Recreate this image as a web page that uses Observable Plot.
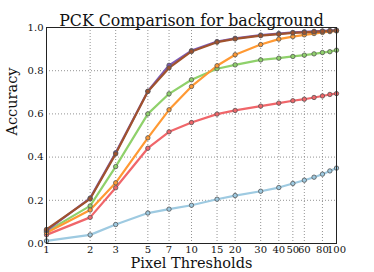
<!DOCTYPE html>
<html><head><meta charset="utf-8">
<script src="https://cdn.jsdelivr.net/npm/d3@7"></script>
<script src="https://cdn.jsdelivr.net/npm/@observablehq/plot@0.6"></script>
<style>body{margin:0;background:#fff}</style>
</head><body><div id="chart"></div>
<script>
const title = "PCK Comparison for background";
const xLabel = "Pixel Thresholds";
const yLabel = "Accuracy";
const thresholds = [1,2,3,5,7,10,15,20,30,40,50,60,70,80,90,100];
const xTicks = [1,2,3,5,7,10,15,20,30,40,50,60,80,100];
const yTicks = [0,0.2,0.4,0.6,0.8,1.0];
const seriesNames = ["S1","S2","S3","S4","S5","S6"];
const seriesColors = ["#9ecae1","#f0666a","#8fd16b","#ff9933","#7e5bb5","#a0522d"];
const s1 = [0.012,0.040,0.088,0.141,0.159,0.177,0.205,0.222,0.242,0.259,0.278,0.293,0.307,0.321,0.336,0.349];
const s2 = [0.040,0.121,0.258,0.441,0.517,0.560,0.599,0.616,0.636,0.650,0.661,0.668,0.676,0.683,0.690,0.694];
const s3 = [0.055,0.174,0.356,0.600,0.693,0.758,0.809,0.827,0.850,0.858,0.866,0.872,0.878,0.884,0.888,0.895];
const s4 = [0.050,0.155,0.281,0.489,0.619,0.727,0.823,0.874,0.921,0.946,0.958,0.966,0.972,0.977,0.981,0.984];
const s5 = [0.060,0.210,0.420,0.705,0.825,0.893,0.935,0.950,0.965,0.972,0.977,0.980,0.982,0.984,0.986,0.988];
const s6 = [0.065,0.207,0.415,0.704,0.813,0.889,0.932,0.947,0.962,0.969,0.975,0.977,0.980,0.982,0.984,0.986];

const seriesValues = [s1, s2, s3, s4, s5, s6];
const rows = [];
seriesNames.forEach((s, i) => thresholds.forEach((t, j) => rows.push({series: s, t, v: seriesValues[i][j]})));

const font = "DejaVu Serif";
const chart = Plot.plot({
  width: 374, height: 272,
  marginLeft: 46, marginRight: 38, marginTop: 27, marginBottom: 29,
  style: {fontFamily: font, fontSize: "10px", color: "#111", background: "#fff"},
  x: {type: "log", domain: [1, 100], axis: null},
  y: {domain: [0, 1], axis: null},
  color: {domain: seriesNames, range: seriesColors},
  marks: [
    Plot.gridX(xTicks, {stroke: "#888", strokeOpacity: 0.9, strokeDasharray: "1,2"}),
    Plot.gridY(yTicks, {stroke: "#888", strokeOpacity: 0.9, strokeDasharray: "1,2"}),
    Plot.line(rows, {x: "t", y: "v", z: "series", stroke: "series", strokeWidth: 2.2}),
    Plot.dot(rows, {x: "t", y: "v", fill: "series", stroke: "#555", strokeWidth: 0.8, r: 2.2}),
    Plot.frame({stroke: "#222", strokeWidth: 1}),
    Plot.text(xTicks, {x: d => d, text: d => String(d), frameAnchor: "bottom", lineAnchor: "top", dy: 2, fontSize: 10}),
    Plot.text(yTicks, {y: d => d, text: d => d.toFixed(1), frameAnchor: "left", textAnchor: "end", dx: -3, fontSize: 10}),
    Plot.text([title], {frameAnchor: "top", lineAnchor: "bottom", dy: -2, fontSize: 15.8}),
    Plot.text([xLabel], {frameAnchor: "bottom", lineAnchor: "top", dy: 14, fontSize: 14.5}),
    Plot.text([yLabel], {frameAnchor: "left", rotate: -90, lineAnchor: "bottom", dx: -30, fontSize: 14.5})
  ]
});
document.getElementById("chart").append(chart);
</script>
</body></html>
